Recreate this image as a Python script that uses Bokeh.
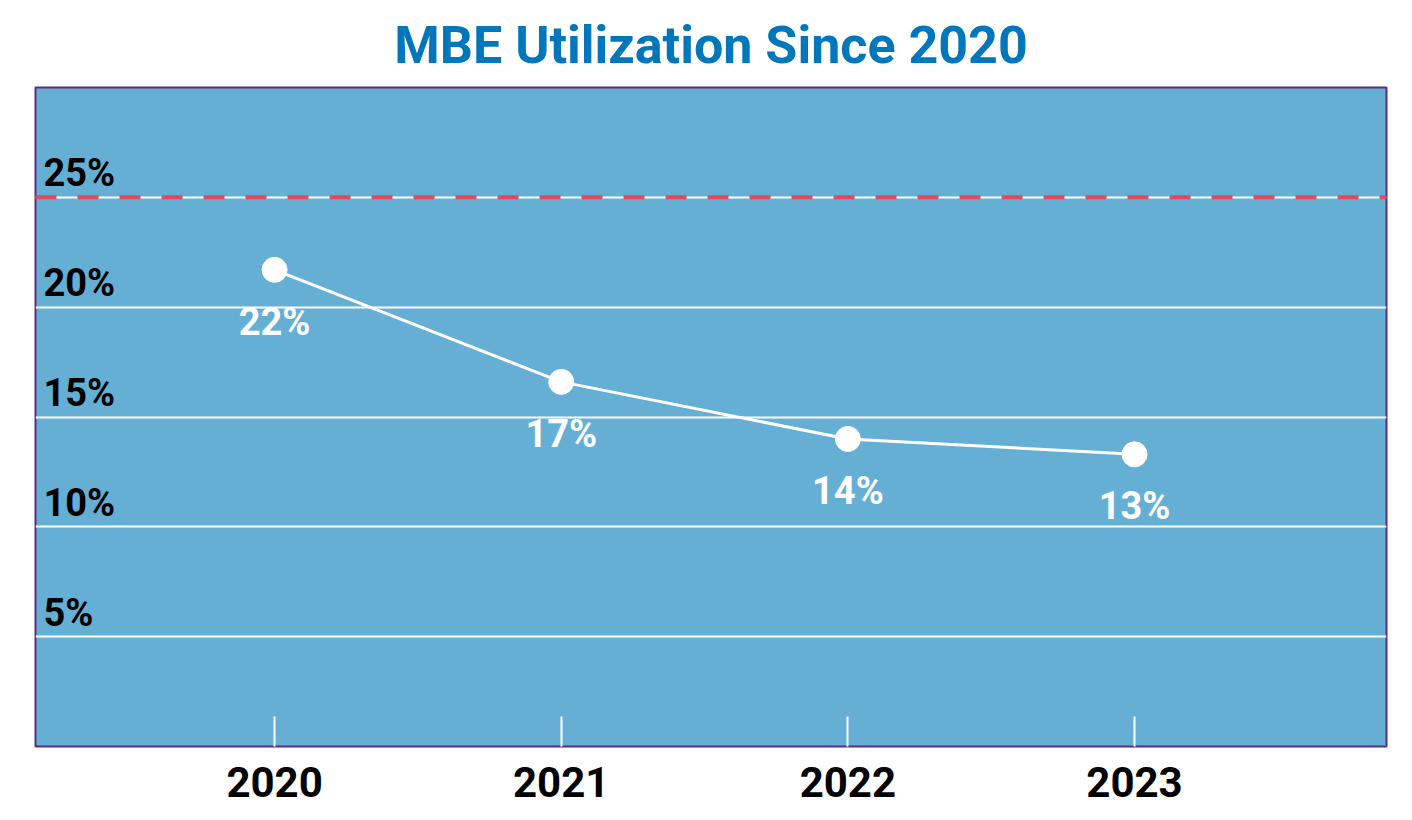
from bokeh.plotting import figure
from bokeh.models import FixedTicker, Span, Range1d
from bokeh.core.properties import value
from bokeh.embed import file_html
from bokeh.resources import INLINE

# ---- data ----
years = [2020, 2021, 2022, 2023]
utilization = [21.7, 16.6, 14.0, 13.3]
value_labels = ["22%", "17%", "14%", "13%"]
grid_ticks = [5, 10, 15, 20, 25]
grid_labels = ["5%", "10%", "15%", "20%", "25%"]
target = 25
title_text = "MBE Utilization Since 2020"

# ---- style ----
BG = "#65AFD5"
PURPLE = "#5B2C83"
RED = "#E8475A"
TITLE_BLUE = "#0077BB"
FONT = "Roboto"

x_start, x_end = 2019.166, 2023.879

p = figure(
    frame_width=1351, frame_height=659,
    x_range=Range1d(x_start, x_end), y_range=Range1d(0, 30),
    output_backend="svg", toolbar_location=None,
    min_border_left=35, min_border_right=18, min_border_top=87, min_border_bottom=60,
)
p.background_fill_color = BG
p.border_fill_color = "white"
p.outline_line_color = PURPLE
p.outline_line_width = 2

# title
p.title.text = title_text
p.title.align = "center"
p.title.text_font = FONT
p.title.text_font_style = "bold"
p.title.text_font_size = "52px"
p.title.text_color = TITLE_BLUE
p.title.standoff = 24

# grid
p.xgrid.visible = False
p.ygrid.ticker = FixedTicker(ticks=grid_ticks)
p.ygrid.grid_line_color = "white"
p.ygrid.grid_line_width = 2

# axes
p.yaxis.visible = False
p.xaxis.ticker = FixedTicker(ticks=years)
p.xaxis.axis_line_color = None
p.xaxis.major_tick_in = 30
p.xaxis.major_tick_out = 0
p.xaxis.major_tick_line_color = "white"
p.xaxis.major_tick_line_width = 2
p.xaxis.minor_tick_line_color = None
p.xaxis.major_label_text_font = FONT
p.xaxis.major_label_text_font_style = "bold"
p.xaxis.major_label_text_font_size = "42px"
p.xaxis.major_label_text_color = "black"
p.xaxis.major_label_standoff = 20

# target line
p.add_layout(Span(location=target, dimension="width", line_color=RED,
                  line_width=4, line_dash="21 21"))

# series
p.line(years, utilization, line_color="white", line_width=3)
p.scatter(years, utilization, size=25, fill_color="white", line_color="white")

p.text(x=years, y=utilization, text=value_labels, y_offset=52,
       text_align="center", text_baseline="middle",
       text_font=value(FONT), text_font_style="bold", text_font_size="38px",
       text_color="white")

# gridline labels
p.text(x=[x_start] * len(grid_ticks), y=grid_ticks, text=grid_labels,
       x_offset=8, y_offset=-24, text_align="left", text_baseline="alphabetic",
       text_font=value(FONT), text_font_style="bold", text_font_size="38px",
       text_color="black")

open("out.html", "w").write(file_html(p, INLINE))
